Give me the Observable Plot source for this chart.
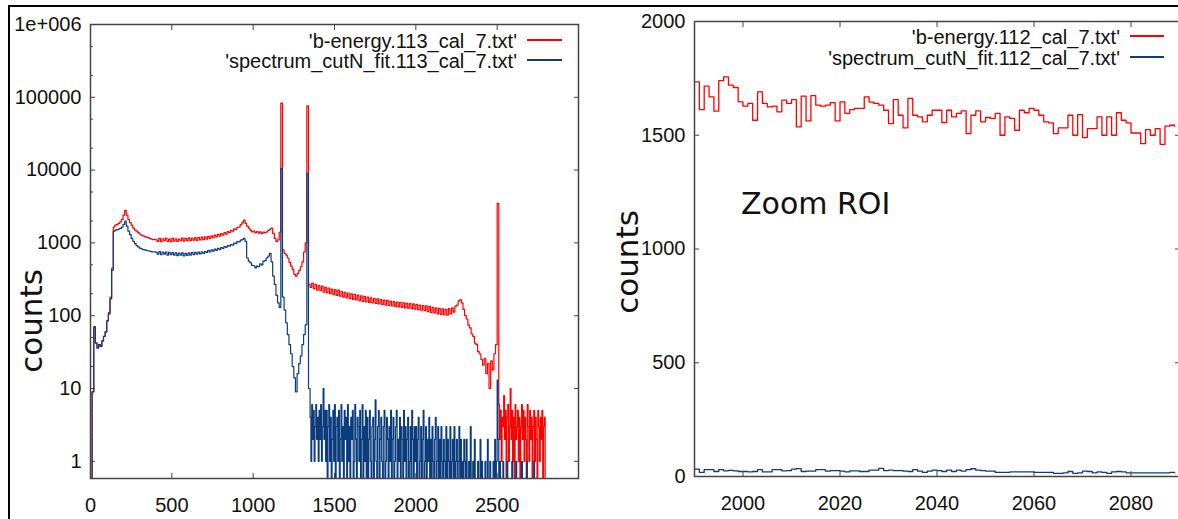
<!DOCTYPE html>
<html><head><meta charset="utf-8">
<script src="https://cdn.jsdelivr.net/npm/d3@7"></script>
<script src="https://cdn.jsdelivr.net/npm/@observablehq/plot@0.6"></script>
<style>
html,body{margin:0;padding:0;background:#fff;}
#page{position:relative;width:1178px;height:519px;overflow:hidden;background:#fff;font-family:"Liberation Sans",Arial,sans-serif;color:#111;}
#frame{position:absolute;left:8px;top:5px;width:1300px;height:600px;border-top:2px solid #000;border-left:2px solid #000;}
.pw{position:absolute;top:0;}
.pw svg{display:block;max-width:none;}
.leg{position:absolute;font-size:20px;line-height:20px;white-space:nowrap;color:#111;transform:translate(-100%,-50%);}
.legline{position:absolute;height:1.5px;}
.vlab{position:absolute;font-family:"DejaVu Sans",sans-serif;font-size:31px;line-height:31px;transform:translate(-50%,-50%) rotate(-90deg);white-space:nowrap;color:#111;}
.roi{position:absolute;font-family:"DejaVu Sans",sans-serif;font-size:30px;line-height:30px;white-space:nowrap;color:#111;}
</style></head>
<body>
<div id="page">
  <div id="frame"></div>
  <div class="pw" id="left" style="left:0px"></div>
  <div class="pw" id="right" style="left:590px"></div>
</div>
<script>
// ---------- data: left panel (log) ----------
// main part: 10-unit bins starting at 0
const redMainStart = 0, mainBinWidth = 10;
const redCounts113Main = [
  0, 9, 70, 42, 36, 40, 38, 45, 52, 60, 85, 110, 180, 450, 1650,
  1750, 1800, 1850, 1950, 2100, 2400, 2800, 2400, 2100, 1900, 1750, 1600, 1500, 1450, 1380, 1320, 1280, 1250, 1220, 1200, 1180, 1150, 1130, 1110, 1120, 1100,
  1050, 1150, 1040, 1140, 1070, 1160, 1050, 1130, 1040, 1150, 1060, 1140, 1050, 1130, 1070, 1160, 1060, 1150, 1080, 1170, 1070, 1160, 1090, 1180, 1080, 1190, 1100, 1200, 1110, 1210,
  1130, 1230, 1150, 1250, 1180, 1280, 1210, 1310, 1240, 1340, 1280, 1380, 1320, 1430, 1380, 1490, 1450, 1560, 1530, 1640, 1650, 1780, 1900,
  2050, 1850, 1700, 1600,
  1500, 1420, 1450, 1380, 1430, 1360, 1420, 1350, 1410, 1380,
  1420, 1480, 1550, 1600, 1350, 1150, 1050, 1100, 1400, 83000, 800, 720, 680, 620, 540, 480, 430, 370, 350, 380, 420, 470, 550, 750, 1000, 76000, 270,
  245, 280, 235, 270, 225, 260, 220, 255, 210, 245,
  205, 240, 200, 232, 195, 228, 190, 225, 185, 215,
  180, 210, 176, 205, 172, 200, 168, 196, 165, 192,
  160, 188, 157, 184, 155, 180, 152, 176, 150, 172,
  148, 170, 145, 166, 143, 164, 140, 162, 138, 158,
  136, 156, 134, 154, 132, 152, 130, 150, 128, 148,
  127, 146, 125, 145, 123, 143, 121, 140, 119, 138,
  117, 136, 114, 134, 111, 130, 109, 128, 106, 126,
  104, 124, 103, 122, 102, 125, 106, 128, 112, 135,
  140, 160, 165, 150, 122, 100, 90, 74, 68, 56,
  52, 42, 40, 32, 30, 25, 21, 26, 16, 22,
  10, 24, 18, 30, 40,
  3500
];
const blueMainStart = 0;
const blueCounts113Main = [
  0, 9, 70, 42, 36, 40, 38, 45, 52, 60, 85, 105, 170, 420, 1450,
  1500, 1520, 1550, 1580, 1650, 1800, 2000, 1700, 1450, 1300, 1150, 1050, 980, 920, 880, 850, 830, 810, 800, 790, 780, 770, 760, 750, 755, 740,
  700, 760, 690, 750, 700, 745, 680, 740, 690, 735, 680, 730, 670, 725, 680, 730, 665, 720, 675, 730, 680, 735, 690, 740, 700, 745, 705, 755, 715, 760,
  740, 790, 750, 800, 770, 820, 790, 840, 810, 860, 840, 890, 870, 920, 900, 950, 930, 990, 980, 1040, 1030, 1090, 1110,
  1150, 1050, 620, 560,
  530, 490, 485, 455, 480, 470, 515, 500, 560, 570,
  620, 660, 720, 550, 350, 270, 190, 150, 130, 10500, 180, 120, 80, 55, 40, 30, 20, 14, 9, 16, 22, 28, 40, 55, 75, 9000, 10
];
// low-count tails: 5-unit bins
const tailBinWidth = 5;
const blueTailStart = 1350;
const blueCounts113Tail = [
  4, 1, 6, 2, 5, 1, 3, 6, 2, 4,   1, 5, 2, 6, 1, 3, 10, 2, 5, 1,
  5, 0, 3, 6, 1, 4, 0, 2, 5, 1,   6, 0, 3, 4, 1, 5, 0, 2, 6, 1,
  3, 0, 5, 2, 4, 0, 6, 1, 3, 0,   4, 2, 5, 0, 1, 6, 2, 0, 4, 3,
  1, 5, 0, 2, 6, 0, 3, 1, 5, 0,
  4, 0, 2, 5, 1, 0, 3, 4, 0, 2,   7, 1, 0, 3, 5, 0, 2, 4, 1, 0,
  3, 5, 0, 1, 4, 2, 0, 3, 1, 5,   0, 2, 4, 0, 1, 3, 5, 0, 2, 1,
  4, 0, 3, 2, 0, 5, 1, 3, 0, 2,   4, 0, 1, 3, 0, 5, 2, 0, 3, 1,
  3, 0, 2, 4, 0, 1, 3, 0, 2, 5,   0, 1, 3, 0, 2, 1, 4, 0, 2, 0,
  3, 1, 0, 2, 4, 0, 1, 3, 0, 2,   0, 3, 1, 0, 2, 1, 0, 3, 0, 2,
  1, 0, 3, 0, 1, 2, 0, 3, 0, 1,   2, 0, 1, 3, 0, 2, 0, 1, 0, 2,
  1, 0, 2, 0, 0, 1, 0, 3, 0, 0,   1, 0, 2, 0, 0, 0, 1, 0, 0, 2,
  0, 1, 0, 0, 0, 1, 0, 0, 2, 0,   0, 1, 0, 0, 0, 1, 0, 2, 0, 1,
  13, 2,
  0, 1, 0, 0, 0, 1, 0, 0, 0, 0,   1, 0, 0, 0, 0, 0, 1, 0, 0, 0,
  0, 1, 0, 0, 0, 0, 0, 0, 1, 0,   0, 0, 0, 0, 1, 0, 0, 0, 0, 0,
  0, 0, 0, 1, 0, 0, 0, 0, 0, 0,   0, 0, 0, 0, 0, 0, 0, 0
];
const redTailStart = 2510;
const redCounts113Tail = [
  6, 2, 5, 1, 4, 3, 8, 2, 5, 0,   4, 6, 1, 3, 10, 2, 5, 1, 4, 0,
  6, 2, 3, 5, 1, 4, 0, 3, 6, 2,   5, 1, 4, 2, 0, 6, 3, 1, 5, 2,
  4, 0, 3, 5, 1, 4, 2, 0, 5, 3,   1, 4, 2, 5, 0, 3, 4, 0
];
const leftXTicks = [0, 500, 1000, 1500, 2000, 2500];
const leftYTicks = [1, 10, 100, 1000, 10000, 100000, 1000000];
const leftYTickLabels = ["1", "10", "100", "1000", "10000", "100000", "1e+006"];
const leftYMinorTicks = [2, 5, 20, 50, 200, 500, 2000, 5000, 20000, 50000, 200000, 500000];
const leftLegend = ["'b-energy.113_cal_7.txt'", "'spectrum_cutN_fit.113_cal_7.txt'"];

// ---------- data: right panel (zoom ROI), bins of 1 starting at 1990 ----------
const rightBinStart = 1990, rightBinWidth = 1;
const redCounts112 = [
  1735, 1613, 1716, 1669, 1606, 1740, 1757, 1720, 1710, 1647,
  1628, 1640, 1566, 1691, 1640, 1625, 1628, 1603, 1654, 1640,
  1657, 1537, 1672, 1563, 1674, 1632, 1628, 1632, 1643, 1563,
  1647, 1596, 1613, 1618, 1618, 1669, 1646, 1640, 1632, 1610,
  1551, 1657, 1588, 1532, 1662, 1588, 1581, 1559, 1588, 1610,
  1610, 1556, 1610, 1581, 1596, 1607, 1507, 1588, 1607, 1559,
  1578, 1574, 1596, 1500, 1581, 1574, 1522, 1610, 1599, 1618,
  1610, 1588, 1559, 1554, 1507, 1532, 1532, 1588, 1500, 1591,
  1490, 1529, 1529, 1581, 1500, 1581, 1500, 1599, 1566, 1554,
  1510, 1510, 1463, 1525, 1500, 1529, 1460, 1540, 1544, 1540
];
const blueCounts112 = [
  32, 18, 30, 30, 22, 30, 25, 27, 25, 22,
  22, 20, 22, 30, 20, 20, 30, 30, 25, 26,
  32, 35, 22, 24, 24, 30, 30, 24, 26, 26,
  24, 20, 25, 25, 22, 22, 28, 28, 36, 26,
  28, 26, 26, 24, 22, 30, 24, 18, 24, 28,
  26, 22, 28, 22, 28, 24, 30, 34, 28, 26,
  24, 24, 18, 18, 18, 20, 20, 20, 20, 20,
  18, 18, 18, 18, 14, 14, 16, 22, 14, 16,
  24, 22, 16, 20, 18, 14, 20, 22, 20, 16,
  16, 16, 16, 16, 16, 16, 16, 16, 18, 16
];
const rightXTicks = [2000, 2020, 2040, 2060, 2080];
const rightYTicks = [0, 500, 1000, 1500, 2000];
const rightLegend = ["'b-energy.112_cal_7.txt'", "'spectrum_cutN_fit.112_cal_7.txt'"];
const yLabel = "counts";
const roiNote = "Zoom ROI";

// ---------- build tables ----------
const toTable = (counts, start, width) => counts.map((c, i) => ({energy: start + i * width, counts: c}));
const leftRed = toTable(redCounts113Main, redMainStart, mainBinWidth).concat(toTable(redCounts113Tail, redTailStart, tailBinWidth));
const leftBlue = toTable(blueCounts113Main, blueMainStart, mainBinWidth).concat(toTable(blueCounts113Tail, blueTailStart, tailBinWidth));
const rightRed = toTable(redCounts112, rightBinStart, rightBinWidth);
const rightBlue = toTable(blueCounts112, rightBinStart, rightBinWidth);

const RED = "#ff0000", BLUE = "#0b3d7e", AXIS = "#444";
const baseStyle = {fontFamily: "Liberation Sans, Arial, sans-serif", fontSize: "20px", color: "#111", background: "none", overflow: "visible"};
const none = () => "";

const leftPlot = Plot.plot({
  width: 600, height: 519,
  marginLeft: 90, marginRight: 22, marginTop: 24, marginBottom: 41,
  style: baseStyle,
  x: {domain: [0, 3000], label: null},
  y: {type: "log", domain: [0.58, 1e6], clamp: true, label: null},
  marks: [
    Plot.line(leftRed, {x: "energy", y: "counts", stroke: RED, strokeWidth: 1.2, curve: "step-after"}),
    Plot.line(leftBlue, {x: "energy", y: "counts", stroke: BLUE, strokeWidth: 1.2, curve: "step-after"}),
    Plot.axisX({ticks: leftXTicks, tickSize: 0, tickPadding: 19, tickFormat: d => String(d), label: null}),
    Plot.axisX({ticks: leftXTicks, tickSize: -5, tickFormat: none, label: null, stroke: AXIS}),
    Plot.axisX({anchor: "top", ticks: leftXTicks, tickSize: -5, tickFormat: none, label: null, stroke: AXIS}),
    Plot.axisY({ticks: leftYTicks, tickSize: 0, tickPadding: 9, tickFormat: d => leftYTickLabels[leftYTicks.indexOf(d)], label: null}),
    Plot.axisY({ticks: leftYTicks, tickSize: -5, tickFormat: none, label: null, stroke: AXIS}),
    Plot.axisY({ticks: leftYMinorTicks, tickSize: -3, tickFormat: none, label: null, stroke: AXIS}),
    Plot.axisY({anchor: "right", ticks: leftYTicks, tickSize: -5, tickFormat: none, label: null, stroke: AXIS}),
    Plot.frame({stroke: AXIS, strokeWidth: 1.5})
  ]
});
document.getElementById("left").appendChild(leftPlot);

const rightPlot = Plot.plot({
  width: 600, height: 519,
  marginLeft: 104, marginRight: 11, marginTop: 21, marginBottom: 43,
  style: baseStyle,
  x: {domain: [1990, 2090], label: null},
  y: {domain: [0, 2000], label: null},
  marks: [
    Plot.line(rightRed, {x: "energy", y: "counts", stroke: RED, strokeWidth: 1.3, curve: "step-after"}),
    Plot.line(rightBlue, {x: "energy", y: "counts", stroke: BLUE, strokeWidth: 1.3, curve: "step-after"}),
    Plot.axisX({ticks: rightXTicks, tickSize: 0, tickPadding: 19, tickFormat: d => String(d), label: null}),
    Plot.axisX({ticks: rightXTicks, tickSize: -5, tickFormat: none, label: null, stroke: AXIS}),
    Plot.axisX({anchor: "top", ticks: rightXTicks, tickSize: -5, tickFormat: none, label: null, stroke: AXIS}),
    Plot.axisY({ticks: rightYTicks, tickSize: 0, tickPadding: 9, tickFormat: d => String(d), label: null}),
    Plot.axisY({ticks: rightYTicks, tickSize: -5, tickFormat: none, label: null, stroke: AXIS}),
    Plot.axisY({anchor: "right", ticks: rightYTicks, tickSize: -5, tickFormat: none, label: null, stroke: AXIS}),
    Plot.frame({stroke: AXIS, strokeWidth: 1.5})
  ]
});
document.getElementById("right").appendChild(rightPlot);

// ---------- overlay text: legends, axis titles, note ----------
const page = document.getElementById("page");
function addLegend(labels, textRight, lineX1, lineX2, rowYs) {
  [RED, BLUE].forEach((col, k) => {
    const t = document.createElement("div");
    t.className = "leg"; t.textContent = labels[k];
    t.style.left = textRight + "px"; t.style.top = (rowYs[k] + 2) + "px";
    page.appendChild(t);
    const l = document.createElement("div");
    l.className = "legline"; l.style.background = col;
    l.style.left = lineX1 + "px"; l.style.width = (lineX2 - lineX1) + "px"; l.style.top = rowYs[k] + "px";
    page.appendChild(l);
  });
}
addLegend(leftLegend, 517, 527, 562, [39, 59]);
addLegend(rightLegend, 1120, 1130, 1164, [35, 56]);

function addVLabel(text, cx, cy) {
  const d = document.createElement("div");
  d.className = "vlab"; d.textContent = text;
  d.style.left = cx + "px"; d.style.top = cy + "px";
  page.appendChild(d);
}
addVLabel(yLabel, 31, 321);
addVLabel(yLabel, 627, 262);

const roi = document.createElement("div");
roi.className = "roi"; roi.textContent = roiNote;
roi.style.left = "741px"; roi.style.top = "189px";
page.appendChild(roi);

if (redCounts113Main.length !== 251 || blueCounts113Main.length !== 135 || blueCounts113Tail.length !== 290 || redCounts113Tail.length !== 58 || redCounts112.length !== 100 || blueCounts112.length !== 100) {
  const e = document.createElement("div");
  e.style.cssText = "position:absolute;left:200px;top:250px;color:magenta;font-size:20px";
  e.textContent = "LEN " + [redCounts113Main.length, blueCounts113Main.length, blueCounts113Tail.length, redCounts113Tail.length, redCounts112.length, blueCounts112.length].join(" ");
  page.appendChild(e);
}
</script>
</body></html>
